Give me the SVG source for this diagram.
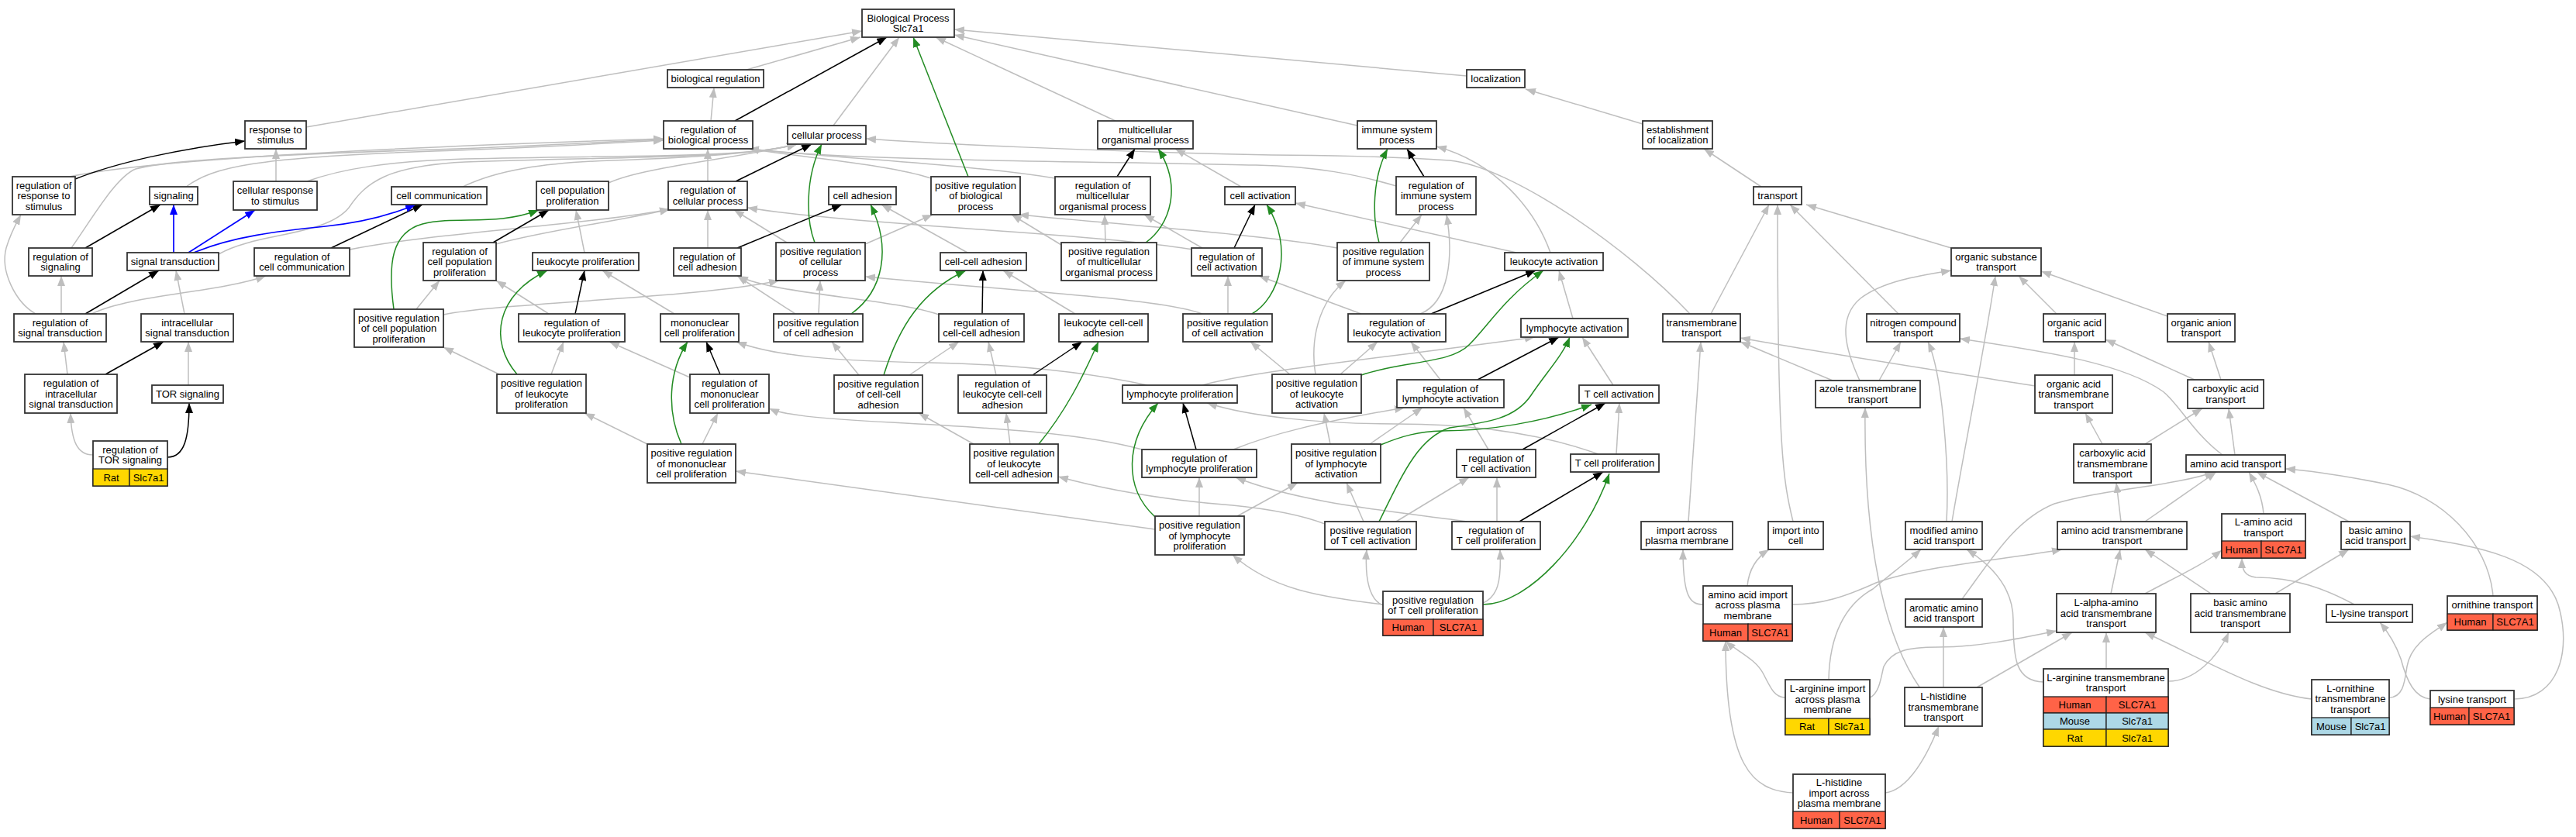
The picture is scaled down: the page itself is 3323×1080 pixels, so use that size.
<svg xmlns="http://www.w3.org/2000/svg" width="3323" height="1080" viewBox="0 0 3323 1080">
<style>
text{font-family:"Liberation Sans",Arial,Helvetica,sans-serif;font-size:13px;text-anchor:middle;fill:#000}
.n rect{fill:#fff;stroke:#333;stroke-width:1.8}
.n rect.hu{fill:#ff6347;stroke:#222;stroke-width:1.3}
.n rect.mo{fill:#add8e6;stroke:#222;stroke-width:1.3}
.n rect.ra{fill:#ffd700;stroke:#222;stroke-width:1.3}
#edges path{fill:none}
.g{stroke:#bebebe;stroke-width:1.5;marker-end:url(#ag)}
.k{stroke:#000;stroke-width:1.5;marker-end:url(#ak)}
.v{stroke:#228b22;stroke-width:1.5;marker-end:url(#av)}
.u{stroke:#0000ff;stroke-width:1.7;marker-end:url(#au)}
</style>
<defs>
<marker id="ag" viewBox="0 0 13 10" refX="13" refY="5" markerWidth="13" markerHeight="10" markerUnits="userSpaceOnUse" orient="auto"><path d="M0,0 L13,5 L0,10 z" fill="#bebebe"/></marker>
<marker id="ak" viewBox="0 0 13 10" refX="13" refY="5" markerWidth="13" markerHeight="10" markerUnits="userSpaceOnUse" orient="auto"><path d="M0,0 L13,5 L0,10 z" fill="#000"/></marker>
<marker id="av" viewBox="0 0 13 10" refX="13" refY="5" markerWidth="13" markerHeight="10" markerUnits="userSpaceOnUse" orient="auto"><path d="M0,0 L13,5 L0,10 z" fill="#228b22"/></marker>
<marker id="au" viewBox="0 0 13 10" refX="13" refY="5" markerWidth="13" markerHeight="10" markerUnits="userSpaceOnUse" orient="auto"><path d="M0,0 L13,5 L0,10 z" fill="#0000ff"/></marker>
</defs>
<rect x="0" y="0" width="3323" height="1080" fill="#fff"/>
<g id="edges">
<path class="g" d="M395,164 L1112,40"/>
<path class="g" d="M963,90 L1110,48"/>
<path class="g" d="M1075,162 L1160,48"/>
<path class="g" d="M1439,156 L1207,48"/>
<path class="g" d="M1751,162 L1231,45"/>
<path class="g" d="M1892,98 L1231,38"/>
<path class="g" d="M917,156 L921,113"/>
<path class="g" d="M2119,160 L1968,115"/>
<path class="g" d="M2272,241 L2198,192"/>
<path class="g" d="M356,234 L356,192"/>
<path class="g" d="M396,234 C440,218 500,208 600,205 C800,200 960,205 1028,186"/>
<path class="g" d="M240,241 C275,215 330,203 560,195 C700,190 800,184 856,181"/>
<path class="g" d="M90,228 C200,205 500,190 856,179"/>
<path class="g" d="M92,320 C120,280 150,228 175,218 C220,205 400,198 560,193 C700,188 800,182 856,180"/>
<path class="g" d="M282,328 C330,300 420,305 450,268 C472,235 500,214 600,209 C800,202 960,205 1028,186"/>
<path class="g" d="M597,241 C640,220 700,210 790,207 C900,203 980,198 1028,186"/>
<path class="g" d="M785,236 C830,215 950,205 1028,186"/>
<path class="g" d="M46,405 C20,390 0,350 8,320 C14,300 20,290 27,277"/>
<path class="g" d="M79,405 L79,356"/>
<path class="g" d="M118,405 C170,380 280,378 343,356"/>
<path class="g" d="M238,405 L227,349"/>
<path class="g" d="M87,483 L82,441"/>
<path class="g" d="M120,587 C100,587 92,570 91,533"/>
<path class="g" d="M243,497 L243,441"/>
<path class="g" d="M451,322 C560,300 760,290 864,270"/>
<path class="g" d="M537,399 L567,362"/>
<path class="g" d="M572,406 C650,390 900,385 1005,362"/>
<path class="g" d="M640,315 C700,298 800,285 864,270"/>
<path class="g" d="M913,234 L913,192"/>
<path class="g" d="M754,326 L743,271"/>
<path class="g" d="M708,405 L640,362"/>
<path class="g" d="M711,483 L727,441"/>
<path class="g" d="M644,483 L572,448"/>
<path class="g" d="M870,405 L777,349"/>
<path class="g" d="M890,487 L786,441"/>
<path class="g" d="M906,573 L926,533"/>
<path class="g" d="M835,573 L754,533"/>
<path class="g" d="M1490,683 L949,608"/>
<path class="g" d="M913,320 L913,271"/>
<path class="g" d="M1015,313 L947,271"/>
<path class="g" d="M1116,315 L1203,277"/>
<path class="g" d="M1026,405 L951,356"/>
<path class="g" d="M1056,405 L1058,362"/>
<path class="g" d="M1211,406 C1150,385 1000,380 952,356"/>
<path class="g" d="M1387,405 L1294,349"/>
<path class="g" d="M1248,326 L1137,264"/>
<path class="g" d="M1173,484 L1237,441"/>
<path class="g" d="M1108,484 L1073,441"/>
<path class="g" d="M1285,484 L1275,441"/>
<path class="g" d="M1303,573 L1298,533"/>
<path class="g" d="M1256,573 L1185,533"/>
<path class="g" d="M1584,405 L1584,356"/>
<path class="g" d="M1551,320 L1476,277"/>
<path class="g" d="M1426,313 L1425,277"/>
<path class="g" d="M1601,241 L1516,192"/>
<path class="g" d="M1369,316 L1305,277"/>
<path class="g" d="M1725,320 C1650,305 1450,290 1314,277"/>
<path class="g" d="M1806,313 L1834,277"/>
<path class="g" d="M1832,405 C1870,390 1875,330 1866,277"/>
<path class="g" d="M1756,405 L1624,356"/>
<path class="g" d="M1697,483 C1690,440 1700,390 1736,362"/>
<path class="g" d="M1729,483 L1777,441"/>
<path class="g" d="M2000,326 C1980,270 1930,210 1853,189"/>
<path class="g" d="M2029,411 L2011,349"/>
<path class="g" d="M2081,497 L2041,435"/>
<path class="g" d="M1858,490 L1820,441"/>
<path class="g" d="M1551,497 C1620,478 1800,460 1980,435"/>
<path class="g" d="M1480,497 C1400,480 1300,470 1200,468 C1080,466 1000,460 950,441"/>
<path class="g" d="M1956,326 L1671,262"/>
<path class="g" d="M2180,405 C2100,320 1950,215 1870,207 C1800,202 1700,200 1640,200 C1400,195 1200,185 1117,179"/>
<path class="g" d="M1801,240 C1750,225 1700,215 1620,213 C1400,208 1100,208 966,192"/>
<path class="g" d="M1201,230 C1150,213 1050,205 966,192"/>
<path class="g" d="M1361,230 C1250,212 1100,206 966,192"/>
<path class="g" d="M1551,405 C1500,385 1300,375 1116,357"/>
<path class="g" d="M1540,322 C1400,300 1100,290 964,268"/>
<path class="g" d="M1665,484 L1613,441"/>
<path class="g" d="M1591,580 C1640,560 1700,545 1812,526"/>
<path class="g" d="M1767,573 L1835,526"/>
<path class="g" d="M1716,573 L1708,533"/>
<path class="g" d="M1920,580 L1888,526"/>
<path class="g" d="M2085,586 L2089,520"/>
<path class="g" d="M2062,586 C1990,560 1900,547 1800,547 C1700,547 1610,537 1557,520"/>
<path class="g" d="M1931,673 L1931,616"/>
<path class="g" d="M1801,673 L1895,616"/>
<path class="g" d="M1759,673 L1737,623"/>
<path class="g" d="M1596,666 L1674,623"/>
<path class="g" d="M1547,666 L1547,616"/>
<path class="g" d="M1893,673 C1800,660 1680,650 1594,616"/>
<path class="g" d="M1473,580 C1400,560 1300,553 1150,545 C1050,540 1010,535 992,527"/>
<path class="g" d="M1709,676 C1680,665 1640,657 1590,652 C1500,645 1420,630 1365,615"/>
<path class="g" d="M1784,780 C1700,770 1640,760 1590,716"/>
<path class="g" d="M1784,781 C1768,775 1760,750 1763,709"/>
<path class="g" d="M1913,778 C1932,770 1937,750 1935,709"/>
<path class="g" d="M2178,673 L2194,441"/>
<path class="g" d="M2207,405 L2282,264"/>
<path class="g" d="M2313,673 C2300,620 2293,580 2293,264"/>
<path class="g" d="M2449,405 L2309,264"/>
<path class="g" d="M2517,320 L2330,264"/>
<path class="g" d="M2424,491 L2452,441"/>
<path class="g" d="M2364,491 L2245,441"/>
<path class="g" d="M2399,491 C2380,450 2370,410 2400,385 C2430,362 2480,355 2517,349"/>
<path class="g" d="M2625,498 C2500,478 2350,455 2245,436"/>
<path class="g" d="M2867,587 C2830,560 2810,520 2790,505 C2740,470 2650,455 2528,437"/>
<path class="g" d="M2518,673 C2530,600 2560,450 2574,356"/>
<path class="g" d="M2653,405 L2604,356"/>
<path class="g" d="M2796,408 L2633,350"/>
<path class="g" d="M2511,673 C2515,600 2505,480 2487,441"/>
<path class="g" d="M2477,888 C2430,820 2404,700 2406,526"/>
<path class="g" d="M2676,484 L2676,441"/>
<path class="g" d="M2831,490 L2716,438"/>
<path class="g" d="M2712,573 L2690,533"/>
<path class="g" d="M2865,490 L2849,441"/>
<path class="g" d="M2767,573 L2841,527"/>
<path class="g" d="M2883,587 L2875,527"/>
<path class="g" d="M2531,773 C2570,720 2600,670 2650,650 C2720,630 2800,628 2857,609"/>
<path class="g" d="M2767,673 L2859,609"/>
<path class="g" d="M2920,663 C2918,640 2910,625 2901,609"/>
<path class="g" d="M3030,673 L2911,609"/>
<path class="g" d="M3216,769 C3210,700 3150,640 3080,625 C3030,615 2990,608 2948,605"/>
<path class="g" d="M2736,673 L2730,623"/>
<path class="g" d="M2723,766 L2735,709"/>
<path class="g" d="M2767,766 C2800,748 2840,730 2866,710"/>
<path class="g" d="M2852,766 L2767,709"/>
<path class="g" d="M2935,766 L3030,709"/>
<path class="g" d="M3037,780 C3000,760 2960,745 2910,745 C2895,743 2892,735 2892,720"/>
<path class="g" d="M2717,863 L2717,816"/>
<path class="g" d="M2797,879 C2830,879 2860,850 2875,816"/>
<path class="g" d="M2550,887 L2673,816"/>
<path class="g" d="M2636,880 C2600,879 2597,850 2597,800 C2597,760 2570,730 2537,709"/>
<path class="g" d="M2412,900 C2425,895 2427,870 2430,860 C2440,840 2460,835 2500,835 C2550,835 2600,825 2653,814"/>
<path class="g" d="M2982,902 C2920,895 2860,860 2767,816"/>
<path class="g" d="M3082,900 C3100,900 3102,880 3105,860 C3110,830 3140,815 3157,803"/>
<path class="g" d="M3135,902 C3115,900 3105,880 3097,850 C3090,830 3080,815 3070,803"/>
<path class="g" d="M3243,902 C3300,902 3318,840 3300,780 C3280,720 3200,705 3109,692"/>
<path class="g" d="M2197,780 C2180,780 2171,770 2171,709"/>
<path class="g" d="M2254,756 C2256,735 2265,720 2282,709"/>
<path class="g" d="M2312,780 C2350,780 2380,770 2420,752 C2480,730 2600,720 2660,709"/>
<path class="g" d="M2359,877 C2360,820 2380,780 2416,760 C2440,740 2460,725 2478,709"/>
<path class="g" d="M2303,900 C2290,900 2285,890 2275,870 C2265,850 2240,840 2226,827"/>
<path class="g" d="M2313,1023 C2260,1020 2226,990 2226,827"/>
<path class="g" d="M2432,1023 C2456,1020 2480,990 2501,937"/>
<path class="g" d="M2507,887 L2507,809"/>
<path class="k" d="M97,231 C150,210 230,192 316,182"/>
<path class="k" d="M110,320 L207,264"/>
<path class="k" d="M110,405 L205,349"/>
<path class="k" d="M136,483 L211,441"/>
<path class="k" d="M216,590 C238,590 244,565 244,520"/>
<path class="k" d="M427,320 L545,264"/>
<path class="k" d="M948,156 L1144,48"/>
<path class="k" d="M949,234 L1047,186"/>
<path class="k" d="M636,313 L708,271"/>
<path class="k" d="M742,405 L754,349"/>
<path class="k" d="M951,320 L1086,264"/>
<path class="k" d="M929,483 L911,441"/>
<path class="k" d="M1267,405 L1268,349"/>
<path class="k" d="M1441,228 L1464,192"/>
<path class="k" d="M1332,484 L1396,441"/>
<path class="k" d="M1592,320 L1619,264"/>
<path class="k" d="M1837,228 L1815,192"/>
<path class="k" d="M1846,405 L1981,349"/>
<path class="k" d="M1906,490 L2011,435"/>
<path class="k" d="M1543,580 L1526,520"/>
<path class="k" d="M1964,580 L2071,520"/>
<path class="k" d="M1960,673 L2068,609"/>
<path class="v" d="M1249,228 L1178,48"/>
<path class="v" d="M1051,313 C1040,285 1038,230 1060,186"/>
<path class="v" d="M508,399 C500,340 505,300 545,289 C590,278 640,292 695,271"/>
<path class="v" d="M667,483 C630,440 640,380 706,349"/>
<path class="v" d="M1098,405 C1140,375 1150,320 1123,264"/>
<path class="v" d="M1478,313 C1510,290 1525,240 1494,192"/>
<path class="v" d="M879,573 C860,530 862,480 887,441"/>
<path class="v" d="M1140,484 C1160,420 1190,375 1246,349"/>
<path class="v" d="M1340,573 C1375,530 1395,490 1417,441"/>
<path class="v" d="M1615,405 C1650,385 1670,320 1634,264"/>
<path class="v" d="M1779,313 C1770,280 1770,230 1790,192"/>
<path class="v" d="M1756,484 C1810,465 1870,470 1895,445 C1920,420 1940,385 1991,349"/>
<path class="v" d="M1781,574 C1810,562 1830,557 1860,556 C1920,556 1990,545 2053,522"/>
<path class="v" d="M1779,673 C1810,610 1830,565 1870,552 C1920,545 1955,540 1975,510 C1995,480 2015,460 2025,435"/>
<path class="v" d="M1490,667 C1450,630 1450,570 1494,520"/>
<path class="v" d="M1913,780 C1970,780 2045,700 2076,611"/>
<path class="u" d="M224,326 L224,264"/>
<path class="u" d="M243,326 L329,271"/>
<path class="u" d="M250,326 C300,305 360,298 420,292 C470,287 510,275 536,264"/>
</g>
<g id="nodes">
<g id="n-bp" class="n"><rect x="1112" y="12" width="119" height="36"/><text x="1171.5" y="27.9">Biological Process</text><text x="1171.5" y="41.3">Slc7a1</text></g>
<g id="n-bioreg" class="n"><rect x="861" y="90" width="124" height="23"/><text x="923" y="106.1">biological regulation</text></g>
<g id="n-loc" class="n"><rect x="1892" y="90" width="75" height="23"/><text x="1929.5" y="106.1">localization</text></g>
<g id="n-resp" class="n"><rect x="316" y="156" width="79" height="36"/><text x="355.5" y="171.9">response to</text><text x="355.5" y="185.3">stimulus</text></g>
<g id="n-rbp" class="n"><rect x="856" y="156" width="115" height="36"/><text x="913.5" y="171.9">regulation of</text><text x="913.5" y="185.3">biological process</text></g>
<g id="n-cp" class="n"><rect x="1016" y="162" width="101" height="24"/><text x="1066.5" y="178.6">cellular process</text></g>
<g id="n-mop" class="n"><rect x="1416" y="156" width="123" height="36"/><text x="1477.5" y="171.9">multicellular</text><text x="1477.5" y="185.3">organismal process</text></g>
<g id="n-isp" class="n"><rect x="1751" y="156" width="102" height="36"/><text x="1802" y="171.9">immune system</text><text x="1802" y="185.3">process</text></g>
<g id="n-estloc" class="n"><rect x="2119" y="156" width="90" height="36"/><text x="2164" y="171.9">establishment</text><text x="2164" y="185.3">of localization</text></g>
<g id="n-rrs" class="n"><rect x="16" y="228" width="81" height="49"/><text x="56.5" y="243.7">regulation of</text><text x="56.5" y="257.1">response to</text><text x="56.5" y="270.5">stimulus</text></g>
<g id="n-sig" class="n"><rect x="193" y="241" width="62" height="23"/><text x="224" y="257.1">signaling</text></g>
<g id="n-crs" class="n"><rect x="301" y="234" width="108" height="37"/><text x="355" y="250.4">cellular response</text><text x="355" y="263.8">to stimulus</text></g>
<g id="n-cc" class="n"><rect x="505" y="241" width="123" height="23"/><text x="566.5" y="257.1">cell communication</text></g>
<g id="n-cpp" class="n"><rect x="692" y="234" width="93" height="37"/><text x="738.5" y="250.4">cell population</text><text x="738.5" y="263.8">proliferation</text></g>
<g id="n-rcp" class="n"><rect x="862" y="234" width="102" height="37"/><text x="913" y="250.4">regulation of</text><text x="913" y="263.8">cellular process</text></g>
<g id="n-ca" class="n"><rect x="1069" y="241" width="87" height="23"/><text x="1112.5" y="257.1">cell adhesion</text></g>
<g id="n-prbp" class="n"><rect x="1201" y="228" width="115" height="49"/><text x="1258.5" y="243.7">positive regulation</text><text x="1258.5" y="257.1">of biological</text><text x="1258.5" y="270.5">process</text></g>
<g id="n-rmop" class="n"><rect x="1361" y="228" width="123" height="49"/><text x="1422.5" y="243.7">regulation of</text><text x="1422.5" y="257.1">multicellular</text><text x="1422.5" y="270.5">organismal process</text></g>
<g id="n-cact" class="n"><rect x="1580" y="241" width="91" height="23"/><text x="1625.5" y="257.1">cell activation</text></g>
<g id="n-risp" class="n"><rect x="1801" y="228" width="103" height="49"/><text x="1852.5" y="243.7">regulation of</text><text x="1852.5" y="257.1">immune system</text><text x="1852.5" y="270.5">process</text></g>
<g id="n-transport" class="n"><rect x="2262" y="241" width="62" height="23"/><text x="2293" y="257.1">transport</text></g>
<g id="n-rsig" class="n"><rect x="37" y="320" width="82" height="36"/><text x="78" y="335.9">regulation of</text><text x="78" y="349.3">signaling</text></g>
<g id="n-st" class="n"><rect x="164" y="326" width="118" height="23"/><text x="223" y="342.1">signal transduction</text></g>
<g id="n-rcc" class="n"><rect x="328" y="320" width="123" height="36"/><text x="389.5" y="335.9">regulation of</text><text x="389.5" y="349.3">cell communication</text></g>
<g id="n-rcpp" class="n"><rect x="546" y="313" width="94" height="49"/><text x="593" y="328.7">regulation of</text><text x="593" y="342.1">cell population</text><text x="593" y="355.5">proliferation</text></g>
<g id="n-lp" class="n"><rect x="687" y="326" width="137" height="23"/><text x="755.5" y="342.1">leukocyte proliferation</text></g>
<g id="n-rca" class="n"><rect x="869" y="320" width="87" height="36"/><text x="912.5" y="335.9">regulation of</text><text x="912.5" y="349.3">cell adhesion</text></g>
<g id="n-prcp" class="n"><rect x="1001" y="313" width="115" height="49"/><text x="1058.5" y="328.7">positive regulation</text><text x="1058.5" y="342.1">of cellular</text><text x="1058.5" y="355.5">process</text></g>
<g id="n-cca" class="n"><rect x="1213" y="326" width="111" height="23"/><text x="1268.5" y="342.1">cell-cell adhesion</text></g>
<g id="n-prmop" class="n"><rect x="1369" y="313" width="123" height="49"/><text x="1430.5" y="328.7">positive regulation</text><text x="1430.5" y="342.1">of multicellular</text><text x="1430.5" y="355.5">organismal process</text></g>
<g id="n-rcact" class="n"><rect x="1537" y="320" width="91" height="36"/><text x="1582.5" y="335.9">regulation of</text><text x="1582.5" y="349.3">cell activation</text></g>
<g id="n-prisp" class="n"><rect x="1725" y="313" width="119" height="49"/><text x="1784.5" y="328.7">positive regulation</text><text x="1784.5" y="342.1">of immune system</text><text x="1784.5" y="355.5">process</text></g>
<g id="n-la" class="n"><rect x="1941" y="326" width="127" height="23"/><text x="2004.5" y="342.1">leukocyte activation</text></g>
<g id="n-ost" class="n"><rect x="2517" y="320" width="116" height="36"/><text x="2575" y="335.9">organic substance</text><text x="2575" y="349.3">transport</text></g>
<g id="n-rst" class="n"><rect x="18" y="405" width="119" height="36"/><text x="77.5" y="420.9">regulation of</text><text x="77.5" y="434.3">signal transduction</text></g>
<g id="n-ist" class="n"><rect x="182" y="405" width="119" height="36"/><text x="241.5" y="420.9">intracellular</text><text x="241.5" y="434.3">signal transduction</text></g>
<g id="n-prcpp" class="n"><rect x="457" y="399" width="115" height="49"/><text x="514.5" y="414.7">positive regulation</text><text x="514.5" y="428.1">of cell population</text><text x="514.5" y="441.5">proliferation</text></g>
<g id="n-rlp" class="n"><rect x="669" y="405" width="137" height="36"/><text x="737.5" y="420.9">regulation of</text><text x="737.5" y="434.3">leukocyte proliferation</text></g>
<g id="n-mcp" class="n"><rect x="852" y="405" width="101" height="36"/><text x="902.5" y="420.9">mononuclear</text><text x="902.5" y="434.3">cell proliferation</text></g>
<g id="n-prca" class="n"><rect x="998" y="405" width="115" height="36"/><text x="1055.5" y="420.9">positive regulation</text><text x="1055.5" y="434.3">of cell adhesion</text></g>
<g id="n-rcca" class="n"><rect x="1211" y="405" width="110" height="36"/><text x="1266" y="420.9">regulation of</text><text x="1266" y="434.3">cell-cell adhesion</text></g>
<g id="n-lcca" class="n"><rect x="1366" y="405" width="115" height="36"/><text x="1423.5" y="420.9">leukocyte cell-cell</text><text x="1423.5" y="434.3">adhesion</text></g>
<g id="n-prcact" class="n"><rect x="1526" y="405" width="115" height="36"/><text x="1583.5" y="420.9">positive regulation</text><text x="1583.5" y="434.3">of cell activation</text></g>
<g id="n-rla" class="n"><rect x="1739" y="405" width="126" height="36"/><text x="1802" y="420.9">regulation of</text><text x="1802" y="434.3">leukocyte activation</text></g>
<g id="n-lact" class="n"><rect x="1962" y="411" width="138" height="24"/><text x="2031" y="427.6">lymphocyte activation</text></g>
<g id="n-tmt" class="n"><rect x="2145" y="405" width="100" height="36"/><text x="2195" y="420.9">transmembrane</text><text x="2195" y="434.3">transport</text></g>
<g id="n-nct" class="n"><rect x="2408" y="405" width="120" height="36"/><text x="2468" y="420.9">nitrogen compound</text><text x="2468" y="434.3">transport</text></g>
<g id="n-oat" class="n"><rect x="2636" y="405" width="80" height="36"/><text x="2676" y="420.9">organic acid</text><text x="2676" y="434.3">transport</text></g>
<g id="n-oant" class="n"><rect x="2796" y="405" width="87" height="36"/><text x="2839.5" y="420.9">organic anion</text><text x="2839.5" y="434.3">transport</text></g>
<g id="n-rist" class="n"><rect x="32" y="483" width="119" height="50"/><text x="91.5" y="499.2">regulation of</text><text x="91.5" y="512.6">intracellular</text><text x="91.5" y="526">signal transduction</text></g>
<g id="n-tor" class="n"><rect x="196" y="497" width="92" height="23"/><text x="242" y="513.1">TOR signaling</text></g>
<g id="n-prlp" class="n"><rect x="641" y="483" width="115" height="50"/><text x="698.5" y="499.2">positive regulation</text><text x="698.5" y="512.6">of leukocyte</text><text x="698.5" y="526">proliferation</text></g>
<g id="n-rmcp" class="n"><rect x="890" y="483" width="102" height="50"/><text x="941" y="499.2">regulation of</text><text x="941" y="512.6">mononuclear</text><text x="941" y="526">cell proliferation</text></g>
<g id="n-prcca" class="n"><rect x="1076" y="484" width="114" height="49"/><text x="1133" y="499.7">positive regulation</text><text x="1133" y="513.1">of cell-cell</text><text x="1133" y="526.5">adhesion</text></g>
<g id="n-rlcca" class="n"><rect x="1236" y="484" width="114" height="49"/><text x="1293" y="499.7">regulation of</text><text x="1293" y="513.1">leukocyte cell-cell</text><text x="1293" y="526.5">adhesion</text></g>
<g id="n-lyp" class="n"><rect x="1448" y="497" width="148" height="23"/><text x="1522" y="513.1">lymphocyte proliferation</text></g>
<g id="n-prla" class="n"><rect x="1641" y="483" width="115" height="50"/><text x="1698.5" y="499.2">positive regulation</text><text x="1698.5" y="512.6">of leukocyte</text><text x="1698.5" y="526">activation</text></g>
<g id="n-rlya" class="n"><rect x="1802" y="490" width="138" height="36"/><text x="1871" y="505.9">regulation of</text><text x="1871" y="519.3">lymphocyte activation</text></g>
<g id="n-tca" class="n"><rect x="2037" y="497" width="103" height="23"/><text x="2088.5" y="513.1">T cell activation</text></g>
<g id="n-azt" class="n"><rect x="2342" y="491" width="135" height="35"/><text x="2409.5" y="506.4">azole transmembrane</text><text x="2409.5" y="519.8">transport</text></g>
<g id="n-oatt" class="n"><rect x="2625" y="484" width="100" height="49"/><text x="2675" y="499.7">organic acid</text><text x="2675" y="513.1">transmembrane</text><text x="2675" y="526.5">transport</text></g>
<g id="n-cxat" class="n"><rect x="2822" y="490" width="98" height="37"/><text x="2871" y="506.4">carboxylic acid</text><text x="2871" y="519.8">transport</text></g>
<g id="n-rtor" class="n"><rect x="120" y="569" width="96" height="58"/><rect class="ra" x="120" y="605" width="47" height="22"/><rect class="ra" x="167" y="605" width="49" height="22"/><text x="168" y="584.9">regulation of</text><text x="168" y="598.3">TOR signaling</text><text x="143.5" y="620.6">Rat</text><text x="191.5" y="620.6">Slc7a1</text></g>
<g id="n-prmcp" class="n"><rect x="835" y="573" width="114" height="50"/><text x="892" y="589.2">positive regulation</text><text x="892" y="602.6">of mononuclear</text><text x="892" y="616">cell proliferation</text></g>
<g id="n-prlcca" class="n"><rect x="1251" y="573" width="114" height="50"/><text x="1308" y="589.2">positive regulation</text><text x="1308" y="602.6">of leukocyte</text><text x="1308" y="616">cell-cell adhesion</text></g>
<g id="n-rlyp" class="n"><rect x="1473" y="580" width="148" height="36"/><text x="1547" y="595.9">regulation of</text><text x="1547" y="609.3">lymphocyte proliferation</text></g>
<g id="n-prlya" class="n"><rect x="1666" y="573" width="115" height="50"/><text x="1723.5" y="589.2">positive regulation</text><text x="1723.5" y="602.6">of lymphocyte</text><text x="1723.5" y="616">activation</text></g>
<g id="n-rtca" class="n"><rect x="1879" y="580" width="102" height="36"/><text x="1930" y="595.9">regulation of</text><text x="1930" y="609.3">T cell activation</text></g>
<g id="n-tcp" class="n"><rect x="2026" y="586" width="114" height="23"/><text x="2083" y="602.1">T cell proliferation</text></g>
<g id="n-cxatt" class="n"><rect x="2675" y="573" width="100" height="50"/><text x="2725" y="589.2">carboxylic acid</text><text x="2725" y="602.6">transmembrane</text><text x="2725" y="616">transport</text></g>
<g id="n-aat" class="n"><rect x="2820" y="587" width="128" height="22"/><text x="2884" y="602.6">amino acid transport</text></g>
<g id="n-prlyp" class="n"><rect x="1490" y="666" width="115" height="50"/><text x="1547.5" y="682.2">positive regulation</text><text x="1547.5" y="695.6">of lymphocyte</text><text x="1547.5" y="709">proliferation</text></g>
<g id="n-prtca" class="n"><rect x="1709" y="673" width="118" height="36"/><text x="1768" y="688.9">positive regulation</text><text x="1768" y="702.3">of T cell activation</text></g>
<g id="n-rtcp" class="n"><rect x="1873" y="673" width="114" height="36"/><text x="1930" y="688.9">regulation of</text><text x="1930" y="702.3">T cell proliferation</text></g>
<g id="n-iapm" class="n"><rect x="2117" y="673" width="118" height="36"/><text x="2176" y="688.9">import across</text><text x="2176" y="702.3">plasma membrane</text></g>
<g id="n-iic" class="n"><rect x="2281" y="673" width="71" height="36"/><text x="2316.5" y="688.9">import into</text><text x="2316.5" y="702.3">cell</text></g>
<g id="n-maat" class="n"><rect x="2458" y="673" width="99" height="36"/><text x="2507.5" y="688.9">modified amino</text><text x="2507.5" y="702.3">acid transport</text></g>
<g id="n-aatt" class="n"><rect x="2654" y="673" width="167" height="36"/><text x="2737.5" y="688.9">amino acid transmembrane</text><text x="2737.5" y="702.3">transport</text></g>
<g id="n-laat" class="n"><rect x="2866" y="663" width="108" height="57"/><rect class="hu" x="2866" y="698" width="51" height="22"/><rect class="hu" x="2917" y="698" width="57" height="22"/><text x="2920" y="678.4">L-amino acid</text><text x="2920" y="691.8">transport</text><text x="2891.5" y="713.6">Human</text><text x="2945.5" y="713.6">SLC7A1</text></g>
<g id="n-baat" class="n"><rect x="3020" y="673" width="89" height="36"/><text x="3064.5" y="688.9">basic amino</text><text x="3064.5" y="702.3">acid transport</text></g>
<g id="n-prtcp" class="n"><rect x="1784" y="763" width="129" height="57"/><rect class="hu" x="1784" y="799" width="65" height="21"/><rect class="hu" x="1849" y="799" width="64" height="21"/><text x="1848.5" y="778.9">positive regulation</text><text x="1848.5" y="792.3">of T cell proliferation</text><text x="1816.5" y="814.1">Human</text><text x="1881" y="814.1">SLC7A1</text></g>
<g id="n-aaipm" class="n"><rect x="2197" y="756" width="115" height="71"/><rect class="hu" x="2197" y="805" width="58" height="22"/><rect class="hu" x="2255" y="805" width="57" height="22"/><text x="2254.5" y="771.7">amino acid import</text><text x="2254.5" y="785.1">across plasma</text><text x="2254.5" y="798.5">membrane</text><text x="2226" y="820.6">Human</text><text x="2283.5" y="820.6">SLC7A1</text></g>
<g id="n-arom" class="n"><rect x="2458" y="773" width="99" height="36"/><text x="2507.5" y="788.9">aromatic amino</text><text x="2507.5" y="802.3">acid transport</text></g>
<g id="n-laatt" class="n"><rect x="2653" y="766" width="128" height="50"/><text x="2717" y="782.2">L-alpha-amino</text><text x="2717" y="795.6">acid transmembrane</text><text x="2717" y="809">transport</text></g>
<g id="n-baatt" class="n"><rect x="2826" y="766" width="128" height="50"/><text x="2890" y="782.2">basic amino</text><text x="2890" y="795.6">acid transmembrane</text><text x="2890" y="809">transport</text></g>
<g id="n-lys" class="n"><rect x="3001" y="780" width="111" height="23"/><text x="3056.5" y="796.1">L-lysine transport</text></g>
<g id="n-orn" class="n"><rect x="3157" y="769" width="116" height="44"/><rect class="hu" x="3157" y="792" width="59" height="21"/><rect class="hu" x="3216" y="792" width="57" height="21"/><text x="3215" y="785.1">ornithine transport</text><text x="3186.5" y="807.1">Human</text><text x="3244.5" y="807.1">SLC7A1</text></g>
<g id="n-argipm" class="n"><rect x="2303" y="877" width="109" height="71"/><rect class="ra" x="2303" y="927" width="56" height="21"/><rect class="ra" x="2359" y="927" width="53" height="21"/><text x="2357.5" y="893.2">L-arginine import</text><text x="2357.5" y="906.6">across plasma</text><text x="2357.5" y="920">membrane</text><text x="2331" y="942.1">Rat</text><text x="2385.5" y="942.1">Slc7a1</text></g>
<g id="n-histt" class="n"><rect x="2457" y="887" width="100" height="50"/><text x="2507" y="903.2">L-histidine</text><text x="2507" y="916.6">transmembrane</text><text x="2507" y="930">transport</text></g>
<g id="n-argtt" class="n"><rect x="2636" y="863" width="161" height="100"/><rect class="hu" x="2636" y="899" width="81" height="21"/><rect class="hu" x="2717" y="899" width="80" height="21"/><rect class="mo" x="2636" y="920" width="81" height="21"/><rect class="mo" x="2717" y="920" width="80" height="21"/><rect class="ra" x="2636" y="941" width="81" height="22"/><rect class="ra" x="2717" y="941" width="80" height="22"/><text x="2716.5" y="878.9">L-arginine transmembrane</text><text x="2716.5" y="892.3">transport</text><text x="2676.5" y="914.1">Human</text><text x="2757" y="914.1">SLC7A1</text><text x="2676.5" y="935.1">Mouse</text><text x="2757" y="935.1">Slc7a1</text><text x="2676.5" y="956.6">Rat</text><text x="2757" y="956.6">Slc7a1</text></g>
<g id="n-orntt" class="n"><rect x="2982" y="877" width="100" height="71"/><rect class="mo" x="2982" y="926" width="51" height="22"/><rect class="mo" x="3033" y="926" width="49" height="22"/><text x="3032" y="892.7">L-ornithine</text><text x="3032" y="906.1">transmembrane</text><text x="3032" y="919.5">transport</text><text x="3007.5" y="941.6">Mouse</text><text x="3057.5" y="941.6">Slc7a1</text></g>
<g id="n-lystr" class="n"><rect x="3135" y="891" width="108" height="44"/><rect class="hu" x="3135" y="913" width="50" height="22"/><rect class="hu" x="3185" y="913" width="58" height="22"/><text x="3189" y="906.6">lysine transport</text><text x="3160" y="928.6">Human</text><text x="3214" y="928.6">SLC7A1</text></g>
<g id="n-histipm" class="n"><rect x="2313" y="999" width="119" height="70"/><rect class="hu" x="2313" y="1047" width="60" height="22"/><rect class="hu" x="2373" y="1047" width="59" height="22"/><text x="2372.5" y="1014.2">L-histidine</text><text x="2372.5" y="1027.6">import across</text><text x="2372.5" y="1041">plasma membrane</text><text x="2343" y="1062.6">Human</text><text x="2402.5" y="1062.6">SLC7A1</text></g>
</g>
</svg>
